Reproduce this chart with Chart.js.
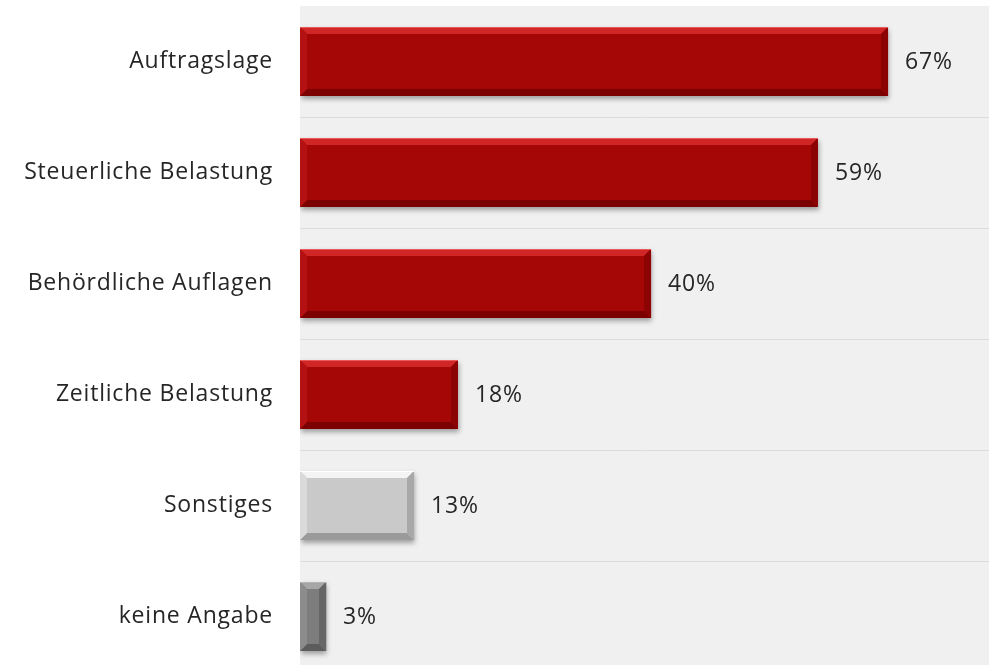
<!DOCTYPE html>
<html lang="de">
<head>
<meta charset="utf-8">
<title>Belastungen</title>
<script src="https://cdn.jsdelivr.net/npm/chart.js@4/dist/chart.umd.min.js"></script>
<style>
    html, body { margin: 0; padding: 0; background: #ffffff; overflow: hidden; }
    #wrap { width: 989px; height: 672px; }
</style>
</head>
<body>
<div id="wrap"><canvas id="chart-belastung" width="989" height="672"></canvas></div>
<script>
// ============================================
// DATEN
// ============================================

const kategorien = [
    'Auftragslage',
    'Steuerliche Belastung',
    'Behördliche Auflagen',
    'Zeitliche Belastung',
    'Sonstiges',
    'keine Angabe'
];

const anteile = [67, 59, 40, 18, 13, 3];

// ============================================
// FARBEN (Fläche + Fasen)
// ============================================

const rot = { face: '#a50606', top: '#d02626', bottom: '#7c0202', left: '#b41212', right: '#8c0303', edge: '#e85a5a' };
const hellgrau = { face: '#c9c9c9', top: '#f4f4f4', bottom: '#9a9a9a', left: '#dadada', right: '#a8a8a8', edge: '#ffffff' };
const dunkelgrau = { face: '#7d7d7d', top: '#a6a6a6', bottom: '#5c5c5c', left: '#8c8c8c', right: '#666666', edge: '#b5b5b5' };

const balkenFarben = [rot, rot, rot, rot, hellgrau, dunkelgrau];

const textFarbe = '#262626';
const schrift = "'Open Sans', 'Noto Sans', sans-serif";
const schriftGroesse = 23;
const laufweite = '0.8px';

// ============================================
// PLUGINS
// ============================================

// grauer Hintergrund nur im Plotbereich, etwas weitere Laufweite für alle Texte
const hintergrund = {
    id: 'hintergrund',
    beforeInit(chart) {
        chart.ctx.letterSpacing = laufweite;
    },
    beforeDraw(chart) {
        const { ctx, chartArea: a } = chart;
        ctx.letterSpacing = laufweite;
        ctx.save();
        ctx.fillStyle = '#f0f0f0';
        ctx.fillRect(a.left, a.top, a.right - a.left, a.bottom - a.top);
        ctx.restore();
    }
};

// Schatten unter den Balken, danach Fasen + Werte
const fasen = {
    id: 'fasen',
    beforeDatasetsDraw(chart) {
        const ctx = chart.ctx;
        ctx.save();
        ctx.shadowColor = 'rgba(0, 0, 0, 0.35)';
        ctx.shadowBlur = 5;
        ctx.shadowOffsetX = 1;
        ctx.shadowOffsetY = 3;
    },
    afterDatasetsDraw(chart) {
        const ctx = chart.ctx;
        ctx.restore();

        const meta = chart.getDatasetMeta(0);
        meta.data.forEach((bar, i) => {
            const p = bar.getProps(['x', 'y', 'base', 'height'], true);
            const x0 = Math.round(p.base);
            const x1 = Math.round(p.x);
            const y0 = Math.round(p.y - p.height / 2);
            const y1 = Math.round(p.y + p.height / 2);
            const c = balkenFarben[i];
            const b = Math.min(7, (x1 - x0) / 2, (y1 - y0) / 2);

            const poly = (pts, farbe) => {
                ctx.beginPath();
                ctx.moveTo(pts[0][0], pts[0][1]);
                pts.slice(1).forEach(q => ctx.lineTo(q[0], q[1]));
                ctx.closePath();
                ctx.fillStyle = farbe;
                ctx.fill();
            };

            ctx.save();
            poly([[x0, y0], [x1, y0], [x1 - b, y0 + b], [x0 + b, y0 + b]], c.top);
            poly([[x0, y1], [x1, y1], [x1 - b, y1 - b], [x0 + b, y1 - b]], c.bottom);
            poly([[x0, y0], [x0 + b, y0 + b], [x0 + b, y1 - b], [x0, y1]], c.left);
            poly([[x1, y0], [x1 - b, y0 + b], [x1 - b, y1 - b], [x1, y1]], c.right);

            // helle Kante oben
            ctx.fillStyle = c.edge;
            ctx.fillRect(x0, y0, x1 - x0, 1);

            // Wert rechts neben dem Balken
            ctx.fillStyle = textFarbe;
            ctx.font = schriftGroesse + 'px ' + schrift;
            ctx.textAlign = 'left';
            ctx.textBaseline = 'middle';
            ctx.fillText(anteile[i] + '%', x1 + 17, p.y + 1);
            ctx.restore();
        });
    }
};

// ============================================
// DIAGRAMM
// ============================================

const ctx = document.getElementById('chart-belastung');

new Chart(ctx, {
    type: 'bar',
    data: {
        labels: kategorien,
        datasets: [{
            data: anteile,
            backgroundColor: balkenFarben.map(c => c.face),
            borderWidth: 0,
            categoryPercentage: 1,
            barPercentage: 0.62
        }]
    },
    options: {
        indexAxis: 'y',
        responsive: false,
        animation: false,
        layout: {
            padding: { top: 6, right: 0, bottom: 0, left: 0 }
        },
        plugins: {
            legend: { display: false },
            tooltip: { enabled: false }
        },
        scales: {
            x: {
                display: false,
                min: 0,
                max: 78.5
            },
            y: {
                afterFit(scale) {
                    // feste Breite, kein Zusatzabstand oben/unten
                    scale.width = 300;
                    scale.paddingTop = 0;
                    scale.paddingBottom = 0;
                },
                border: { display: false },
                grid: {
                    offset: true,
                    drawTicks: false,
                    lineWidth: 1,
                    color: c => (c.index === 0 ? 'rgba(0,0,0,0)' : '#dcdcdc')
                },
                ticks: {
                    color: textFarbe,
                    padding: 27,
                    font: { family: schrift, size: schriftGroesse }
                }
            }
        }
    },
    plugins: [hintergrund, fasen]
});
</script>
</body>
</html>
